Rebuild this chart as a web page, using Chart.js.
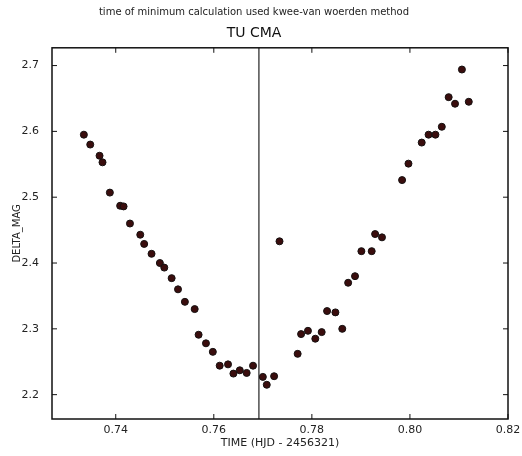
<!DOCTYPE html>
<html>
<head>
<meta charset="utf-8">
<script src="https://cdn.jsdelivr.net/npm/chart.js@4.4.1/dist/chart.umd.min.js"></script>
<style>
  html, body { margin: 0; padding: 0; background: #fff; }
  #wrap { width: 522px; height: 456px; }
</style>
</head>
<body>
<div id="wrap"><canvas id="lc"></canvas></div>
<script>
// light curve of TU CMA near minimum
const times = [0.7335, 0.7348, 0.7367, 0.7373, 0.7388, 0.7409, 0.7416, 0.7429, 0.7450, 0.7458,
  0.7473, 0.7490, 0.7499, 0.7514, 0.7527, 0.7541, 0.7561, 0.7569, 0.7584, 0.7598,
  0.7612, 0.7629, 0.7640, 0.7653, 0.7667, 0.7680, 0.7700, 0.7708, 0.7723, 0.7734,
  0.7771, 0.7778, 0.7792, 0.7807, 0.7820, 0.7831, 0.7848, 0.7862, 0.7874, 0.7888,
  0.7901, 0.7922, 0.7929, 0.7943, 0.7984, 0.7997, 0.8024, 0.8038, 0.8052, 0.8065,
  0.8079, 0.8092, 0.8106, 0.8120];
const deltaMag = [2.595, 2.580, 2.563, 2.553, 2.507, 2.487, 2.486, 2.460, 2.443, 2.429,
  2.414, 2.400, 2.393, 2.377, 2.360, 2.341, 2.330, 2.291, 2.278, 2.265,
  2.244, 2.246, 2.232, 2.237, 2.233, 2.244, 2.227, 2.215, 2.228, 2.433,
  2.262, 2.292, 2.297, 2.285, 2.295, 2.327, 2.325, 2.300, 2.370, 2.380,
  2.418, 2.418, 2.444, 2.439, 2.526, 2.551, 2.583, 2.595, 2.595, 2.607,
  2.652, 2.642, 2.694, 2.645];
const minTime = 0.7692; // kwee-van woerden result
const xTicks = [0.74, 0.76, 0.78, 0.80, 0.82];
const yTicks = [2.2, 2.3, 2.4, 2.5, 2.6, 2.7];
const xRange = [0.727, 0.82];
const yRange = [2.163, 2.727];

const font = "'DejaVu Sans', sans-serif";

// box around the plot + inward ticks like matplotlib
const frame = {
  id: 'frame',
  afterDatasetsDraw(chart) {
    const { ctx, chartArea: a, scales } = chart;
    ctx.save();
    ctx.strokeStyle = '#111';
    ctx.lineWidth = 1.5;
    ctx.strokeRect(a.left, a.top, a.right - a.left, a.bottom - a.top);
    ctx.lineWidth = 1;
    ctx.beginPath();
    xTicks.forEach(v => {
      const px = scales.x.getPixelForValue(v);
      ctx.moveTo(px, a.bottom); ctx.lineTo(px, a.bottom - 5);
      ctx.moveTo(px, a.top); ctx.lineTo(px, a.top + 5);
    });
    yTicks.forEach(v => {
      const py = scales.y.getPixelForValue(v);
      ctx.moveTo(a.left, py); ctx.lineTo(a.left + 5, py);
      ctx.moveTo(a.right, py); ctx.lineTo(a.right - 5, py);
    });
    ctx.stroke();
    ctx.restore();
  }
};

new Chart(document.getElementById('lc'), {
  type: 'scatter',
  data: {
    datasets: [
      {
        label: 'delta mag',
        data: times.map((t, i) => ({ x: t, y: deltaMag[i] })),
        backgroundColor: '#3a0d0d',
        borderColor: '#141010',
        borderWidth: 1,
        pointRadius: 3.5
      },
      {
        type: 'line',
        label: 'minimum',
        data: [{ x: minTime, y: yRange[0] }, { x: minTime, y: yRange[1] }],
        borderColor: '#222',
        borderWidth: 1.2,
        pointRadius: 0
      }
    ]
  },
  options: {
    responsive: true,
    maintainAspectRatio: false,
    animation: false,
    layout: { padding: { left: 0, right: 14, top: 0, bottom: 6 } },
    plugins: {
      legend: { display: false },
      tooltip: { enabled: false },
      title: {
        display: true,
        text: 'time of minimum calculation used kwee-van woerden method',
        color: '#222',
        font: { family: font, size: 10, weight: 'normal' },
        padding: { top: 6, bottom: 7 }
      },
      subtitle: {
        display: true,
        text: 'TU CMA',
        color: '#111',
        font: { family: font, size: 14, weight: '500' },
        padding: { top: 0, bottom: 6 }
      }
    },
    scales: {
      x: {
        type: 'linear',
        min: xRange[0],
        max: xRange[1],
        afterBuildTicks: s => { s.ticks = xTicks.map(v => ({ value: v })); },
        afterFit: s => { s.height = 31; },
        ticks: {
          color: '#222',
          font: { family: font, size: 11 },
          padding: -3,
          maxRotation: 0,
          callback: v => v.toFixed(2)
        },
        grid: { display: false },
        border: { display: false },
        title: {
          display: true,
          text: 'TIME (HJD - 2456321)',
          color: '#222',
          font: { family: font, size: 11 },
          padding: { top: 0, bottom: 0 }
        }
      },
      y: {
        type: 'linear',
        min: yRange[0],
        max: yRange[1],
        afterBuildTicks: s => { s.ticks = yTicks.map(v => ({ value: v })); },
        afterFit: s => { s.width = 52; },
        ticks: {
          color: '#222',
          font: { family: font, size: 11 },
          padding: 5,
          callback: v => v.toFixed(1)
        },
        grid: { display: false },
        border: { display: false },
        title: {
          display: true,
          text: 'DELTA_MAG',
          color: '#222',
          font: { family: font, size: 10 },
          padding: { top: 11, bottom: 0 }
        }
      }
    }
  },
  plugins: [frame]
});
</script>
</body>
</html>
